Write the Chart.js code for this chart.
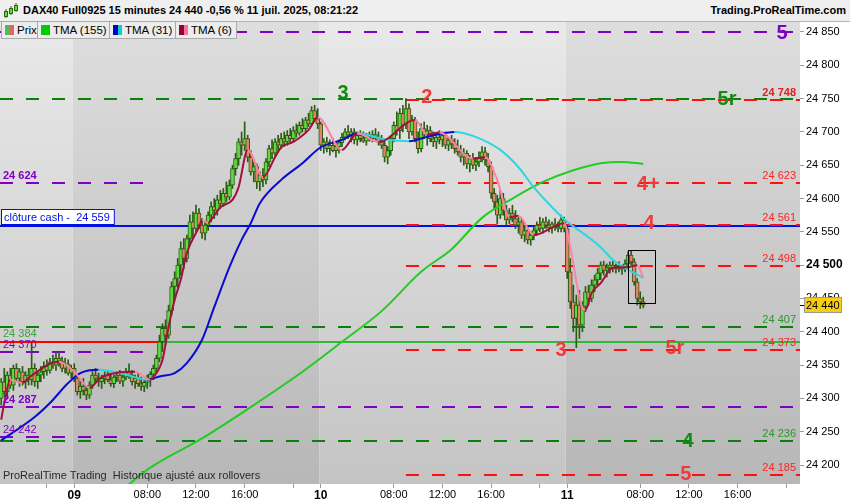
<!DOCTYPE html>
<html>
<head>
<meta charset="utf-8">
<script src="https://cdn.jsdelivr.net/npm/chart.js@4.4.1/dist/chart.umd.min.js"></script>
<style>
body { margin: 0; width: 850px; height: 500px; overflow: hidden; background: #fff; position: relative; font-family: "Liberation Sans", Arial, sans-serif; }
#head { position: absolute; left: 0; top: 0; width: 850px; height: 21px; background: #efefef; border-bottom: 1px solid #b4b4b4; }
#title { position: absolute; left: 23px; top: 4px; font-weight: bold; font-size: 11px; color: #000; white-space: nowrap; }
#site { position: absolute; right: 4px; top: 4px; font-weight: bold; font-size: 11px; color: #000; }
#icon { position: absolute; left: 4px; top: 3px; }
#wrap { position: absolute; left: 0; top: 22px; width: 850px; height: 478px; }
#legend { position: absolute; left: 1px; top: 21px; height: 18px; display: flex; }
.lg { box-sizing: border-box; height: 18px; border: 1px solid #aaa; background: #ececec; font-size: 11.5px; display: flex; align-items: center; padding-left: 3px; margin-right: -1px; color: #000; white-space: nowrap; flex-shrink: 0; overflow: hidden; }
.sw { width: 9px; height: 10px; margin-right: 3px; display: flex; flex-shrink: 0; }
.sw i { flex: 1; }
</style>
</head>
<body>
<div id="head">
  <svg id="icon" width="14" height="16" viewBox="0 0 14 16">
    <line x1="2" y1="6" x2="2" y2="15" stroke="#2b6b14"/><rect x="0.5" y="8.5" width="3" height="5" fill="#5ddc3c" stroke="#2b6b14"/>
    <line x1="7" y1="3" x2="7" y2="12" stroke="#2b6b14"/><rect x="5.5" y="5.5" width="3" height="5" fill="#5ddc3c" stroke="#2b6b14"/>
    <line x1="12" y1="0" x2="12" y2="9" stroke="#2b6b14"/><rect x="10.5" y="2.5" width="3" height="5" fill="#5ddc3c" stroke="#2b6b14"/>
  </svg>
  <div id="title">DAX40 Full0925 15 minutes 24 440 -0,56 % 11 juil. 2025, 08:21:22</div>
  <div id="site">Trading.ProRealTime.com</div>
</div>
<div id="wrap"><canvas id="chart" width="850" height="478"></canvas></div>
<div id="legend">
  <div class="lg" style="width:37px"><span class="sw"><i style="background:#55bb55"></i><i style="background:#dd6666"></i></span>Prix</div>
  <div class="lg" style="width:73px"><span class="sw"><i style="background:#00cc00"></i></span>TMA (155)</div>
  <div class="lg" style="width:67px"><span class="sw"><i style="background:#0000cc"></i><i style="background:#11cccc"></i></span>TMA (31)</div>
  <div class="lg" style="width:62px"><span class="sw"><i style="background:#990033"></i><i style="background:#ff6f99"></i></span>TMA (6)</div>
</div>
<script>
// 15 min bars, index 0 = first visible bar
const opens = [24300,24325,24310,24335,24320,24345,24330,24340,24325,24335,
  24328,24345,24325,24335,24340,24348,24342,24355,24350,24360,
  24356,24345,24352,24338,24345,24330,24310,24318,24312,24305,
  24320,24335,24330,24325,24330,24335,24328,24322,24332,24335,
  24326,24332,24340,24335,24325,24330,24322,24318,24324,24330,
  24336,24345,24360,24385,24405,24395,24432,24468,24480,24500,
  24525,24510,24540,24565,24555,24578,24560,24548,24560,24575,
  24588,24582,24598,24592,24608,24602,24620,24645,24660,24685,
  24680,24690,24662,24640,24648,24625,24635,24628,24655,24675,
  24668,24685,24680,24690,24685,24695,24690,24702,24698,24710,
  24705,24718,24712,24732,24720,24712,24680,24685,24675,24680,
  24672,24678,24684,24692,24700,24695,24700,24688,24695,24690,
  24686,24692,24690,24696,24692,24685,24680,24662,24672,24690,
  24710,24702,24728,24710,24735,24700,24718,24690,24675,24705,
  24695,24702,24690,24685,24692,24688,24695,24680,24688,24682,
  24675,24670,24662,24668,24652,24660,24650,24655,24662,24670,
  24658,24648,24608,24595,24575,24600,24582,24568,24578,24570,
  24560,24565,24545,24552,24538,24545,24552,24560,24555,24565,
  24560,24556,24562,24558,24555,24568,24555,24490,24445,24420,
  24440,24410,24438,24460,24450,24470,24478,24488,24500,24492,
  24496,24500,24495,24498,24494,24496,24502,24515,24505,24475,
  24450,24445];
const highs = [24330,24345,24340,24345,24350,24352,24345,24348,24340,24345,
  24383,24352,24340,24348,24355,24358,24360,24365,24368,24370,
  24362,24360,24358,24350,24352,24335,24325,24330,24318,24325,
  24340,24345,24338,24335,24340,24342,24338,24335,24340,24342,
  24336,24345,24352,24342,24335,24338,24332,24328,24335,24340,
  24350,24365,24395,24412,24418,24440,24475,24490,24510,24535,
  24540,24545,24575,24580,24590,24585,24570,24565,24580,24595,
  24600,24605,24612,24615,24625,24628,24650,24668,24690,24700,
  24715,24695,24672,24655,24652,24640,24645,24660,24680,24688,
  24690,24695,24698,24700,24702,24705,24708,24712,24715,24720,
  24722,24728,24738,24740,24735,24715,24690,24692,24688,24690,
  24685,24688,24698,24705,24710,24705,24705,24700,24702,24700,
  24698,24700,24702,24705,24700,24695,24688,24678,24695,24715,
  24730,24735,24740,24750,24742,24725,24722,24700,24712,24715,
  24710,24708,24700,24698,24702,24700,24700,24692,24695,24690,
  24688,24680,24675,24672,24665,24668,24662,24670,24678,24677,
  24668,24655,24615,24605,24612,24608,24590,24585,24590,24582,
  24572,24570,24560,24558,24550,24558,24565,24572,24570,24572,
  24568,24565,24570,24565,24575,24572,24560,24510,24470,24455,
  24462,24445,24468,24470,24478,24485,24495,24505,24506,24502,
  24505,24506,24502,24505,24500,24508,24520,24522,24510,24480,
  24460,24452];
const lows = [24290,24305,24300,24315,24312,24325,24318,24320,24315,24320,
  24320,24318,24315,24325,24330,24335,24338,24345,24342,24348,
  24340,24338,24335,24330,24325,24305,24300,24305,24298,24300,
  24315,24325,24318,24315,24322,24325,24318,24316,24325,24322,
  24318,24328,24330,24320,24315,24318,24312,24310,24315,24318,
  24328,24340,24355,24370,24380,24390,24425,24450,24465,24485,
  24495,24505,24530,24540,24550,24555,24540,24538,24552,24565,
  24570,24575,24585,24588,24595,24598,24615,24635,24650,24665,
  24672,24655,24635,24625,24615,24612,24618,24622,24648,24660,
  24662,24672,24675,24678,24680,24685,24686,24692,24695,24700,
  24700,24708,24710,24715,24705,24672,24668,24670,24665,24670,
  24662,24668,24678,24688,24690,24685,24682,24680,24685,24684,
  24680,24686,24685,24688,24680,24675,24655,24652,24665,24685,
  24695,24690,24700,24705,24690,24695,24685,24668,24670,24690,
  24680,24685,24678,24675,24682,24678,24675,24672,24675,24668,
  24665,24655,24650,24645,24640,24645,24642,24648,24655,24650,
  24640,24600,24585,24562,24570,24575,24560,24562,24565,24555,
  24548,24540,24535,24532,24530,24538,24545,24550,24548,24555,
  24550,24548,24552,24550,24550,24550,24480,24435,24400,24376,
  24390,24400,24430,24440,24445,24460,24470,24478,24485,24482,
  24488,24490,24488,24490,24486,24490,24498,24500,24470,24440,
  24435,24436];
const closes = [24325,24310,24335,24320,24345,24330,24340,24325,24335,24328,
  24345,24325,24335,24340,24348,24342,24355,24350,24360,24356,
  24345,24352,24338,24345,24330,24310,24318,24312,24305,24320,
  24335,24330,24325,24330,24335,24328,24322,24332,24335,24326,
  24332,24340,24335,24325,24330,24322,24318,24324,24330,24336,
  24345,24360,24385,24405,24395,24432,24468,24480,24500,24525,
  24510,24540,24565,24555,24578,24560,24548,24560,24575,24588,
  24582,24598,24592,24608,24602,24620,24645,24660,24685,24680,
  24690,24662,24640,24648,24625,24635,24628,24655,24675,24668,
  24685,24680,24690,24685,24695,24690,24702,24698,24710,24705,
  24718,24712,24732,24720,24712,24680,24685,24675,24680,24672,
  24678,24684,24692,24700,24695,24700,24688,24695,24690,24686,
  24692,24690,24696,24692,24685,24680,24662,24672,24690,24710,
  24702,24728,24710,24735,24700,24718,24690,24675,24705,24695,
  24702,24690,24685,24692,24688,24695,24680,24688,24682,24675,
  24670,24662,24668,24652,24660,24650,24655,24662,24670,24658,
  24648,24608,24595,24575,24600,24582,24568,24578,24570,24560,
  24565,24545,24552,24538,24545,24552,24560,24555,24565,24560,
  24556,24562,24558,24555,24568,24555,24490,24445,24420,24440,
  24410,24438,24460,24450,24470,24478,24488,24500,24492,24496,
  24500,24495,24498,24494,24496,24502,24515,24505,24475,24450,
  24445,24440];

// moving averages (bar index, value)
const tma6At = [0,1,3,7,9,19,24,29,33,44,49,50,53,55,57,59,61,65,66,68,69,72,76,78,81,86,90,92,96,101,104,112,117,124,136,140,144,155,159,163,167,170,175,185,187,191,192,194,197,201,206,209,211];
const tma6 = [24268,24293,24328,24323,24331,24355,24340,24316,24332,24340,24328,24332,24358,24407,24448,24478,24518,24557,24568,24563,24568,24587,24598,24617,24673,24632,24662,24677,24685,24703,24722,24673,24698,24685,24718,24696,24699,24660,24662,24628,24572,24574,24545,24563,24527,24436,24433,24458,24473,24496,24497,24500,24481];
const tma31At = [0,11,16,22,26,32,40,48,52,57,61,66,70,75,79,82,85,92,99,105,112,117,126,134,141,149,155,164,170,175,181,186,193,197,201,206,211];
const tma31 = [24237,24272,24293,24323,24338,24343,24337,24328,24333,24338,24353,24388,24437,24497,24538,24563,24593,24628,24653,24677,24688,24698,24689,24686,24694,24700,24694,24673,24647,24617,24587,24565,24542,24527,24508,24493,24481];
const tma155At = [39,49,66,82,99,112,125,138,148,158,168,178,187,197,204,211];
const tma155 = [24160,24196,24240,24287,24340,24385,24431,24490,24524,24571,24600,24625,24641,24653,24655,24652];

// levels
const purpleLevels = [24850, 24624, 24370, 24287, 24242];
const greenLevels = [24750, 24407, 24236];
const redLevels = [24748, 24623, 24561, 24498, 24373, 24185];
const cashClose = 24559;
const pivot = 24384;
const lastPrice = 24440;

// time axis
const dayStarts = [24, 105, 186];
const xTickIdx = [15, 24, 48, 64, 80, 96, 105, 129, 145, 161, 177, 186, 210, 226, 242, 258];
const xTickLabels = ['', '09', '08:00', '12:00', '16:00', '', '10', '08:00', '12:00', '16:00', '', '11', '08:00', '12:00', '16:00', ''];
const yTicks = [24200,24250,24300,24350,24400,24450,24500,24550,24600,24650,24700,24750,24800,24850];

const FONT = '"Liberation Sans", Arial, sans-serif';
Chart.defaults.font.family = FONT;
const PURPLE = '#8000c4', GREEN = '#0a820a', RED = '#ff1010', BLUE = '#0010e0';
const OUTLINE = '#2b5b14', UPFILL = '#5ddc3c', DOWNFILL = '#e38468';

function fmt(v) { return String(v).replace(/(\d{2})(\d{3})$/, '$1 $2'); }

function maLine(at, vals, up, down, order) {
  return {
    type: 'line', order: order,
    data: at.map((x, i) => ({ x: x, y: vals[i] })),
    borderWidth: 2, pointRadius: 0, tension: 0.4, cubicInterpolationMode: 'monotone',
    borderColor: up,
    segment: { borderColor: c => c.p1.parsed.y >= c.p0.parsed.y ? up : down }
  };
}

const bgPlugin = {
  id: 'bg',
  beforeDraw(chart) {
    const { ctx, chartArea: a, scales: { x } } = chart;
    const edges = [x.min, dayStarts[0] - 0.5, dayStarts[1] - 0.5, dayStarts[2] - 0.5, x.max];
    for (let k = 0; k < 4; k++) {
      const x0 = x.getPixelForValue(edges[k]), x1 = x.getPixelForValue(edges[k + 1]);
      const g = ctx.createLinearGradient(0, a.top, 0, a.bottom);
      if (k % 2 === 0) { g.addColorStop(0, '#e9e9e9'); g.addColorStop(1, '#c4c4c4'); }
      else { g.addColorStop(0, '#dedede'); g.addColorStop(1, '#b7b7b7'); }
      ctx.fillStyle = g;
      ctx.fillRect(x0, a.top, x1 - x0, a.bottom - a.top);
    }
  }
};

const leftEnd = 47, redStart = 133, pivotSplit = 53;

const levelPlugin = {
  id: 'levels',
  beforeDatasetsDraw(chart) {
    const { ctx, chartArea: a, scales: { x, y } } = chart;
    const lo = x.min, hi = x.max;
    function hline(v, i0, i1, color, dashed) {
      const py = Math.round(y.getPixelForValue(v));
      ctx.save();
      ctx.beginPath();
      ctx.rect(a.left, a.top, a.right - a.left, a.bottom - a.top);
      ctx.clip();
      ctx.strokeStyle = color;
      ctx.lineWidth = 2;
      ctx.setLineDash(dashed ? [13, 13] : []);
      ctx.beginPath();
      ctx.moveTo(x.getPixelForValue(i0), py);
      ctx.lineTo(x.getPixelForValue(i1), py);
      ctx.stroke();
      ctx.restore();
    }
    hline(purpleLevels[0], lo, hi, PURPLE, true);
    hline(greenLevels[0], lo, hi, GREEN, true);
    hline(redLevels[0], redStart, hi, RED, true);
    hline(purpleLevels[1], lo, leftEnd, PURPLE, true);
    hline(redLevels[1], redStart, hi, RED, true);
    hline(cashClose, lo, hi, BLUE, false);
    hline(redLevels[2], redStart, hi, RED, true);
    hline(redLevels[3], redStart, hi, RED, true);
    hline(greenLevels[1], lo, hi, GREEN, true);
    hline(pivot, lo, pivotSplit, '#ff0000', false);
    hline(pivot, pivotSplit, hi, '#33b833', false);
    hline(purpleLevels[2], lo, leftEnd, PURPLE, true);
    hline(redLevels[4], redStart, hi, RED, true);
    hline(purpleLevels[3], lo, hi, PURPLE, true);
    hline(purpleLevels[4], lo, leftEnd, PURPLE, true);
    hline(greenLevels[2], lo, hi, GREEN, true);
    hline(redLevels[5], redStart, hi, RED, true);
  },
  afterDatasetsDraw(chart) {
    const { ctx, chartArea: a, scales: { x, y } } = chart;
    ctx.save();
    // big level tags
    const tags = [
      ['5', purpleLevels[0], 256.6, PURPLE, 0],
      ['3', greenLevels[0], 112.3, '#138a13', -6],
      ['5r', greenLevels[0], 238.5, '#138a13', 0],
      ['4', greenLevels[2], 225.7, '#138a13', -1],
      ['2', redLevels[0], 139.9, '#f03a3a', -3],
      ['4+', redLevels[1], 212.6, '#f03a3a', 0],
      ['4', redLevels[2], 212.9, '#f03a3a', -2],
      ['3', redLevels[4], 184, '#f03a3a', 0],
      ['5r', redLevels[4], 221.4, '#f03a3a', -2],
      ['5', redLevels[5], 225, '#f03a3a', -2]
    ];
    ctx.font = 'bold 20px ' + FONT;
    ctx.textAlign = 'center';
    ctx.textBaseline = 'middle';
    tags.forEach(t => {
      ctx.fillStyle = t[3];
      ctx.fillText(t[0], x.getPixelForValue(t[2]), y.getPixelForValue(t[1]) + t[4] + 1);
    });
    // right value labels
    ctx.textAlign = 'right';
    ctx.textBaseline = 'alphabetic';
    const rx = a.right - 4;
    redLevels.forEach((v, i) => {
      ctx.font = (i === 0 ? 'bold ' : '') + '11px ' + FONT;
      ctx.fillStyle = i === 0 ? '#e02020' : '#f22';
      ctx.fillText(fmt(v), rx, y.getPixelForValue(v) - 4);
    });
    ctx.font = '11px ' + FONT;
    ctx.fillStyle = '#2a962a';
    [greenLevels[1], greenLevels[2]].forEach(v => ctx.fillText(fmt(v), rx, y.getPixelForValue(v) - 4));
    // left value labels
    ctx.textAlign = 'left';
    [[purpleLevels[1], true], [purpleLevels[2], false], [purpleLevels[3], true], [purpleLevels[4], false]].forEach(p => {
      ctx.font = (p[1] ? 'bold ' : '') + '11px ' + FONT;
      ctx.fillStyle = PURPLE;
      ctx.fillText(fmt(p[0]), a.left + 3, y.getPixelForValue(p[0]) - 4);
    });
    ctx.font = '11px ' + FONT;
    ctx.fillStyle = '#3aa33a';
    ctx.fillText(fmt(pivot), a.left + 3, y.getPixelForValue(pivot) - 5);
    // cash close box
    const cy = Math.round(y.getPixelForValue(cashClose));
    const txt = 'clôture cash -  ' + fmt(cashClose);
    const tw = ctx.measureText(txt).width;
    ctx.fillStyle = '#fff';
    ctx.fillRect(1.5, cy - 16.5, tw + 7, 15);
    ctx.strokeStyle = BLUE;
    ctx.lineWidth = 1;
    ctx.strokeRect(1.5, cy - 16.5, tw + 7, 15);
    ctx.fillStyle = BLUE;
    ctx.fillText(txt, 4, cy - 5);
    // selection box around the last bars
    const bx0 = Math.round(x.getPixelForValue(206)) + 0.5, bx1 = Math.round(x.getPixelForValue(215)) + 0.5;
    const by0 = Math.round(y.getPixelForValue(24523)) + 0.5, by1 = Math.round(y.getPixelForValue(24443)) + 0.5;
    ctx.strokeStyle = '#000';
    ctx.strokeRect(bx0, by0, bx1 - bx0, by1 - by0);
    // footer text
    ctx.fillStyle = '#2a2a2a';
    ctx.font = '11px ' + FONT;
    ctx.textBaseline = 'middle';
    ctx.fillText('ProRealTime Trading  Historique ajusté aux rollovers', a.left + 3, a.bottom - 8);
    ctx.restore();
  },
  afterDraw(chart) {
    const { ctx, chartArea: a, scales: { y } } = chart;
    const py = Math.round(y.getPixelForValue(lastPrice));
    ctx.save();
    ctx.strokeStyle = '#000';
    ctx.lineWidth = 1;
    ctx.beginPath();
    ctx.moveTo(a.right, py + 0.5);
    ctx.lineTo(a.right + 4, py + 0.5);
    ctx.stroke();
    ctx.fillStyle = '#f7cf10';
    ctx.fillRect(a.right + 4.5, py - 7.5, 37, 15);
    ctx.strokeStyle = '#9a9a9a';
    ctx.strokeRect(a.right + 4.5, py - 7.5, 37, 15);
    ctx.fillStyle = '#000';
    ctx.font = '11px ' + FONT;
    ctx.textBaseline = 'middle';
    ctx.fillText(fmt(lastPrice), a.right + 6, py + 1);
    ctx.restore();
  }
};

const wicks = opens.map((o, i) => ({ x: i, y: [lows[i], highs[i]] }));
const bodies = opens.map((o, i) => ({ x: i, y: [Math.min(o, closes[i]), Math.max(o, closes[i])] }));

new Chart(document.getElementById('chart').getContext('2d'), {
  type: 'bar',
  data: {
    datasets: [
      maLine(tma6At, tma6, '#a3103e', '#ff80a8', 1),
      maLine(tma31At, tma31, '#0a0ad2', '#30d6de', 2),
      maLine(tma155At, tma155, '#22cc22', '#22cc22', 3),
      { type: 'bar', order: 5, data: bodies, grouped: false, barThickness: 4, minBarLength: 1,
        backgroundColor: opens.map((o, i) => closes[i] >= o ? UPFILL : DOWNFILL),
        borderColor: OUTLINE, borderWidth: 1, borderSkipped: false },
      { type: 'bar', order: 6, data: wicks, grouped: false, barThickness: 1, backgroundColor: OUTLINE, borderWidth: 0 }
    ]
  },
  options: {
    responsive: false,
    animation: false,
    layout: { padding: 0 },
    plugins: { legend: { display: false }, tooltip: { enabled: false } },
    scales: {
      x: {
        type: 'linear', min: -0.4, max: 262.5, offset: false,
        grid: { drawOnChartArea: false, offset: false, tickLength: 4, color: '#9a9a9a' },
        border: { display: false },
        afterBuildTicks: s => { s.ticks = xTickIdx.map(v => ({ value: v })); },
        afterFit: s => { s.height = 16; s.paddingLeft = 0; s.paddingRight = 0; },
        ticks: {
          autoSkip: false, maxRotation: 0, padding: 0, color: '#000',
          callback: (v, i) => xTickLabels[i],
          font: c => (c.tick && dayStarts.includes(c.tick.value)) ? { size: 12, weight: 'bold' } : { size: 11 }
        }
      },
      y: {
        position: 'right', min: 24171.5, max: 24865,
        grid: { drawOnChartArea: false, tickLength: 4, color: '#9a9a9a' },
        border: { display: false },
        afterBuildTicks: s => { s.ticks = yTicks.map(v => ({ value: v })); },
        afterFit: s => { s.width = 50; s.paddingTop = 0; s.paddingBottom = 0; },
        ticks: {
          padding: 2, color: '#000',
          callback: v => fmt(v),
          font: c => (c.tick && c.tick.value === 24500) ? { size: 12, weight: 'bold' } : { size: 11 }
        }
      }
    }
  },
  plugins: [bgPlugin, levelPlugin]
});
</script>
</body>
</html>
